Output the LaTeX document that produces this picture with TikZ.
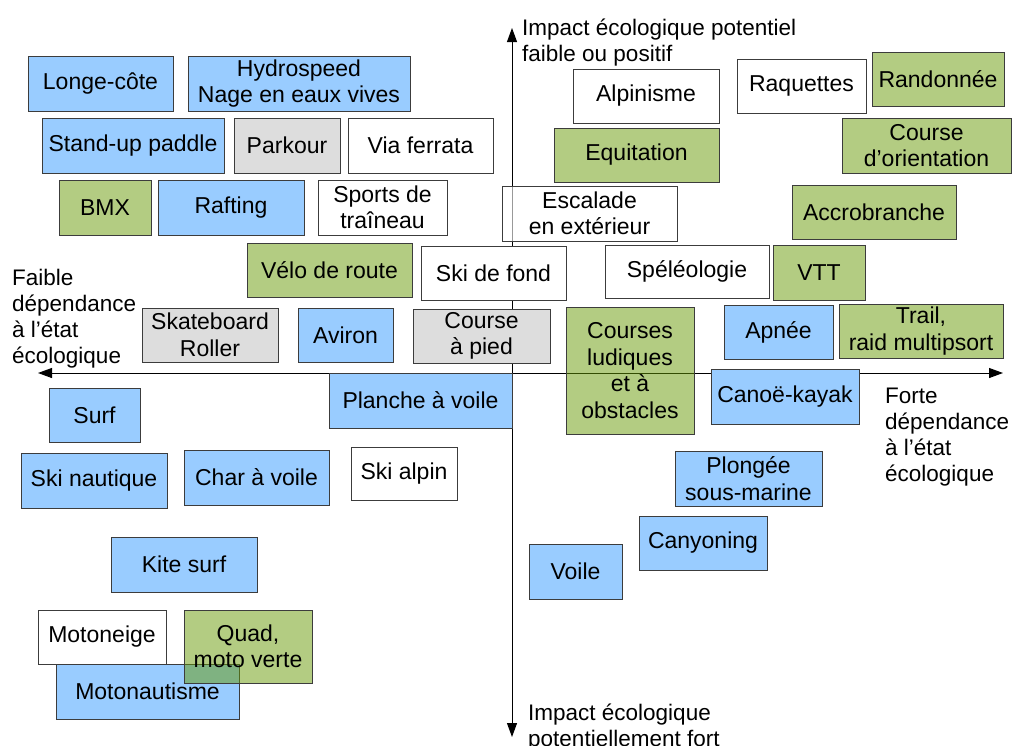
\documentclass[tikz,border=0pt]{standalone}
\usepackage{fontspec}
\setmainfont{Liberation Sans}
\usepackage{tikz}
\usepackage{xcolor}
\usetikzlibrary{arrows.meta}

\definecolor{waterblue}{HTML}{99CCFF}
\definecolor{landgreen}{HTML}{B3CC82}
\definecolor{deepgreen}{HTML}{679905}
\definecolor{urbangray}{HTML}{DDDDDD}
\definecolor{edgegray}{HTML}{3C3C3C}

\begin{document}
\begin{tikzpicture}[x=1pt, y=-1pt,
  sport/.style={draw=edgegray, line width=0.9pt, inner sep=0pt, align=center,
    font=\fontsize{23}{26.5}\selectfont},
  bluebox/.style={sport, fill=waterblue},
  greenbox/.style={sport, fill=landgreen},
  graybox/.style={sport, fill=urbangray},
  whitebox/.style={sport, fill=white},
  seegreen/.style={sport, fill=deepgreen, fill opacity=0.5, text opacity=1},
  seewhite/.style={sport, fill=white, fill opacity=0.6, text opacity=1},
  axislabel/.style={inner sep=0pt, align=left, anchor=north west,
    font=\fontsize{22.5}{26}\selectfont}]
\useasboundingbox (0,0) rectangle (1012,745);

% Axes
\draw[line width=1pt, {Triangle[length=14pt,width=10pt]}-{Triangle[length=14pt,width=10pt]}] (512,737) -- (512,28);
\draw[line width=1pt, {Triangle[length=14pt,width=10pt]}-{Triangle[length=14pt,width=10pt]}] (38,373) -- (1003,373);

% Axis labels
\node[axislabel] (top) at (522,19) {Impact écologique potentiel\\faible ou positif};
\node[axislabel] (left) at (12,269) {Faible\\dépendance\\à l’état\\écologique};
\node[axislabel] (right) at (885,388) {Forte\\dépendance\\à l’état\\écologique};
\node[axislabel] (bottom) at (528,704) {Impact écologique\\potentiellement fort};

% Upper left
\node[bluebox, minimum width=145, minimum height=55] (longe) at (100.5,83.5) {Longe-côte};
\node[bluebox, minimum width=222, minimum height=55] (hydro) at (299,83.5) {Hydrospeed\\Nage en eaux vives};
\node[bluebox, minimum width=182, minimum height=55] (paddle) at (133,145.5) {Stand-up paddle};
\node[graybox, minimum width=106, minimum height=55] (parkour) at (287,145.5) {Parkour};
\node[whitebox, minimum width=145, minimum height=55] (viaferrata) at (420.5,145.5) {Via ferrata};
\node[greenbox, minimum width=92, minimum height=55] (bmx) at (105,207.5) {BMX};
\node[bluebox, minimum width=146, minimum height=55] (rafting) at (231,207.5) {Rafting};
\node[whitebox, minimum width=129, minimum height=55] (traineau) at (382.5,207.5) {Sports de\\traîneau};
\node[greenbox, minimum width=165, minimum height=54] (velo) at (329.5,270) {Vélo de route};
\node[whitebox, minimum width=145, minimum height=54] (skifond) at (493.5,273) {Ski de fond};
\node[graybox, minimum width=136, minimum height=54] (skate) at (210,335) {Skateboard\\Roller};
\node[bluebox, minimum width=95, minimum height=54] (aviron) at (345.5,335) {Aviron};
\node[graybox, minimum width=137, minimum height=54] (apied) at (481.5,336) {Course\\à pied};

% Upper right
\node[seewhite, minimum width=175, minimum height=55] (escalade) at (589.5,213.5) {Escalade\\en extérieur};
\node[whitebox, minimum width=146, minimum height=54] (alpinisme) at (646,96) {Alpinisme};
\node[whitebox, minimum width=129, minimum height=54] (raquettes) at (801.5,86) {Raquettes};
\node[greenbox, minimum width=132, minimum height=54] (rando) at (938,79) {Randonnée};
\node[greenbox, minimum width=165, minimum height=54] (equitation) at (636.5,155) {Equitation};
\node[greenbox, minimum width=169, minimum height=55] (orientation) at (926.5,145.5) {Course\\d’orientation};
\node[greenbox, minimum width=164, minimum height=54] (accro) at (874,212) {Accrobranche};
\node[whitebox, minimum width=164, minimum height=53] (speleo) at (687,271.5) {Spéléologie};
\node[greenbox, minimum width=92, minimum height=55] (vtt) at (819,272.5) {VTT};
\node[bluebox, minimum width=109, minimum height=54] (apnee) at (778.5,332) {Apnée};
\node[greenbox, minimum width=164, minimum height=54] (trail) at (921,331) {Trail,\\raid multipsort};
\node[seegreen, minimum width=128, minimum height=127] (ludiques) at (630,370.5) {Courses\\ludiques\\et à\\obstacles};

% Lower left
\node[bluebox, minimum width=183, minimum height=55] (planche) at (420.5,400.5) {Planche à voile};
\node[bluebox, minimum width=91, minimum height=54] (surf) at (94.5,415) {Surf};
\node[bluebox, minimum width=146, minimum height=55] (skinautique) at (94,480.5) {Ski nautique};
\node[bluebox, minimum width=145, minimum height=55] (charvoile) at (256.5,477.5) {Char à voile};
\node[whitebox, minimum width=106, minimum height=53] (skialpin) at (404,473.5) {Ski alpin};
\node[bluebox, minimum width=146, minimum height=55] (kite) at (184,564.5) {Kite surf};
\node[whitebox, minimum width=128, minimum height=54] (motoneige) at (102,637) {Motoneige};
\node[bluebox, minimum width=183, minimum height=55] (motonautisme) at (147.5,691.5) {Motonautisme};
\node[seegreen, minimum width=128, minimum height=73] (quad) at (248,646.5) {Quad,\\moto verte};

% Lower right
\node[bluebox, minimum width=148, minimum height=55] (canoe) at (785,396.5) {Canoë-kayak};
\node[bluebox, minimum width=147, minimum height=55] (plongee) at (748.5,478.5) {Plongée\\sous-marine};
\node[bluebox, minimum width=128, minimum height=54] (canyoning) at (703,543) {Canyoning};
\node[bluebox, minimum width=93, minimum height=55] (voile) at (575.5,571.5) {Voile};
\end{tikzpicture}
\end{document}
